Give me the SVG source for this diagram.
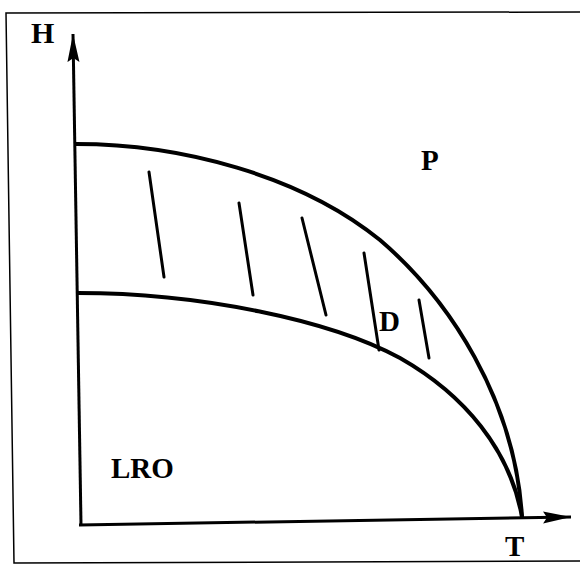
<svg xmlns="http://www.w3.org/2000/svg" width="580" height="567" viewBox="0 0 580 567">
<style>
.lbl{font-family:"Liberation Serif","Times New Roman",serif;font-weight:bold;fill:#000}
.curve{fill:none;stroke:#000;stroke-width:4;stroke-linecap:round}
.axis{fill:none;stroke:#000;stroke-width:3}
.hatch{stroke:#000;stroke-width:3;stroke-linecap:round}
</style>
<defs>
<marker id="arr" markerUnits="userSpaceOnUse" markerWidth="30" markerHeight="14" refX="28" refY="7" orient="auto">
<path d="M0,1 L28,7 L0,13 L4,7 Z" fill="#000"/>
</marker>
</defs>
<rect width="580" height="567" fill="#fff"/>
<polyline points="580,12 6,13 14,563 580,561" fill="none" stroke="#000" stroke-width="1.5"/>
<g id="connectors">
<path class="axis" d="M81,525 L73,34" marker-end="url(#arr)"/>
<path class="axis" d="M79,525 L571,517" marker-end="url(#arr)"/>
</g>
<g id="curves">
<path class="curve" d="M76,144 C180,144 300,175 380,240 C450,300 515,400 522,517"/>
<path class="curve" d="M78,293 C200,293 330,320 400,358 C465,395 510,450 522,517"/>
</g>
<g id="hatching">
<line class="hatch" x1="149" y1="172" x2="164" y2="277"/>
<line class="hatch" x1="239" y1="203" x2="253" y2="295"/>
<line class="hatch" x1="302" y1="218" x2="326" y2="315"/>
<line class="hatch" x1="364" y1="253" x2="379" y2="350"/>
<line class="hatch" x1="419" y1="300" x2="429" y2="358"/>
</g>
<g id="label-H"><text class="lbl" x="31" y="43" font-size="30">H</text></g>
<g id="label-P"><text class="lbl" x="421" y="170" font-size="29">P</text></g>
<g id="label-D"><text class="lbl" x="379" y="331" font-size="29" font-weight="normal">D</text></g>
<g id="label-LRO"><text class="lbl" x="111" y="478" font-size="29">LRO</text></g>
<g id="label-T"><text class="lbl" x="505" y="556" font-size="29">T</text></g>
</svg>
